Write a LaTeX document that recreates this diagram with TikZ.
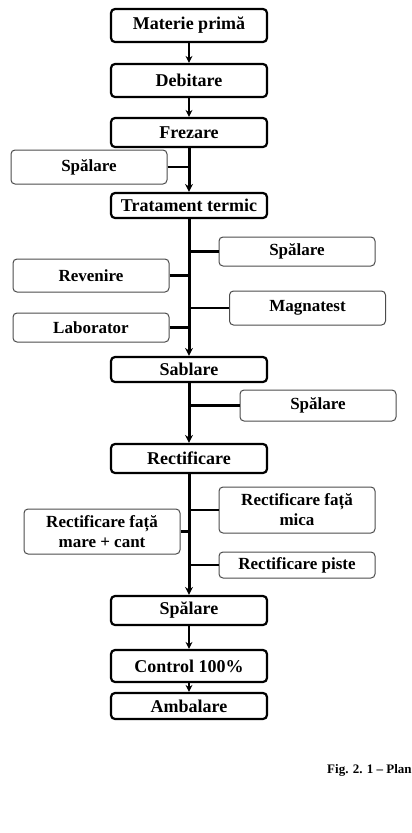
\documentclass[tikz,border=0pt]{standalone}
\usepackage{fontspec}
\setmainfont{Liberation Serif}
\usetikzlibrary{arrows.meta,positioning,calc}

\tikzset{
  mainbox/.style={draw, line width=2.2pt, rounded corners=4pt, minimum width=156pt, inner sep=0pt, font=\fontsize{18}{20}\selectfont\bfseries},
  sidebox/.style={draw=black!70, line width=1pt, rounded corners=4pt, minimum width=156pt, inner sep=0pt, align=center, font=\fontsize{17}{20}\selectfont\bfseries},
  flow/.style={line width=2pt, -{Stealth[length=7pt,width=7pt]}},
  spine/.style={line width=3pt, -{Stealth[length=8pt,width=8pt]}},
  branch/.style={line width=2.4pt}
}

\begin{document}
\begin{tikzpicture}[x=1pt,y=-1pt]
		\useasboundingbox (0,0) rectangle (412,833);

		% main flow
		\node[mainbox, minimum height=33pt] (mat) at (189,25.5) {Materie primă};
		\node[mainbox, minimum height=33pt] (deb) at (189,80.5) {Debitare};
		\node[mainbox, minimum height=29pt] (frez) at (189,132.5) {Frezare};
		\node[mainbox, minimum height=25pt] (trat) at (189,205.5) {Tratament termic};
		\node[mainbox, minimum height=25pt] (sabl) at (189,369.5) {Sablare};
		\node[mainbox, minimum height=29pt] (rect) at (189,458.5) {Rectificare};
		\node[mainbox, minimum height=29pt] (spal) at (189,610.5) {Spălare};
		\node[mainbox, minimum height=32pt] (ctrl) at (189,666) {Control 100\%};
		\node[mainbox, minimum height=26pt] (amb) at (189,706) {Ambalare};

		% side operations
		\node[sidebox, minimum height=34pt] (spl1) at (89,167) {Spălare};
		\node[sidebox, minimum height=29pt] (spl2) at (297,251.5) {Spălare};
		\node[sidebox, minimum height=33pt] (rev) at (91,275.5) {Revenire};
		\node[sidebox, minimum height=34pt] (magn) at (307.5,308) {Magnatest};
		\node[sidebox, minimum height=29pt] (lab) at (91,327.5) {Laborator};
		\node[sidebox, minimum height=31pt] (spl3) at (318,405.5) {Spălare};
		\node[sidebox, minimum height=46pt] (rmica) at (297,510) {Rectificare față\\mica};
		\node[sidebox, minimum height=45pt] (rmare) at (102,531.5) {Rectificare față\\mare + cant};
		\node[sidebox, minimum height=26pt] (rpist) at (297,565) {Rectificare piste};

		\draw[flow] (mat) -- (deb);
		\draw[flow] (deb) -- (frez);
		\draw[spine] (frez) -- (trat);
		\draw[spine] (trat) -- (sabl);
		\draw[spine] (sabl) -- (rect);
		\draw[spine] (rect) -- (spal);
		\draw[flow] (spal) -- (ctrl);
		\draw[flow] (ctrl) -- (amb);

		\draw[branch] (spl1.east) -- (spl1.east -| frez.south);
		\draw[branch] (spl2.west) -- (spl2.west -| trat.south);
		\draw[branch] (rev.east) -- (rev.east -| trat.south);
		\draw[branch] (magn.west) -- (magn.west -| trat.south);
		\draw[branch] (lab.east) -- (lab.east -| trat.south);
		\draw[branch] (spl3.west) -- (spl3.west -| sabl.south);
		\draw[branch] (rmica.west) -- (rmica.west -| rect.south);
		\draw[branch] (rmare.east) -- (rmare.east -| rect.south);
		\draw[branch] (rpist.west) -- (rpist.west -| rect.south);

		\begin{scope}
			\clip (0,0) rectangle (412,833);
			\node[anchor=west, inner sep=0pt, font=\fontsize{13}{15}\selectfont\bfseries] (cap) at (327,770) {Fig. 2. 1 – Plan};
		\end{scope}
	\end{tikzpicture}
\end{document}
